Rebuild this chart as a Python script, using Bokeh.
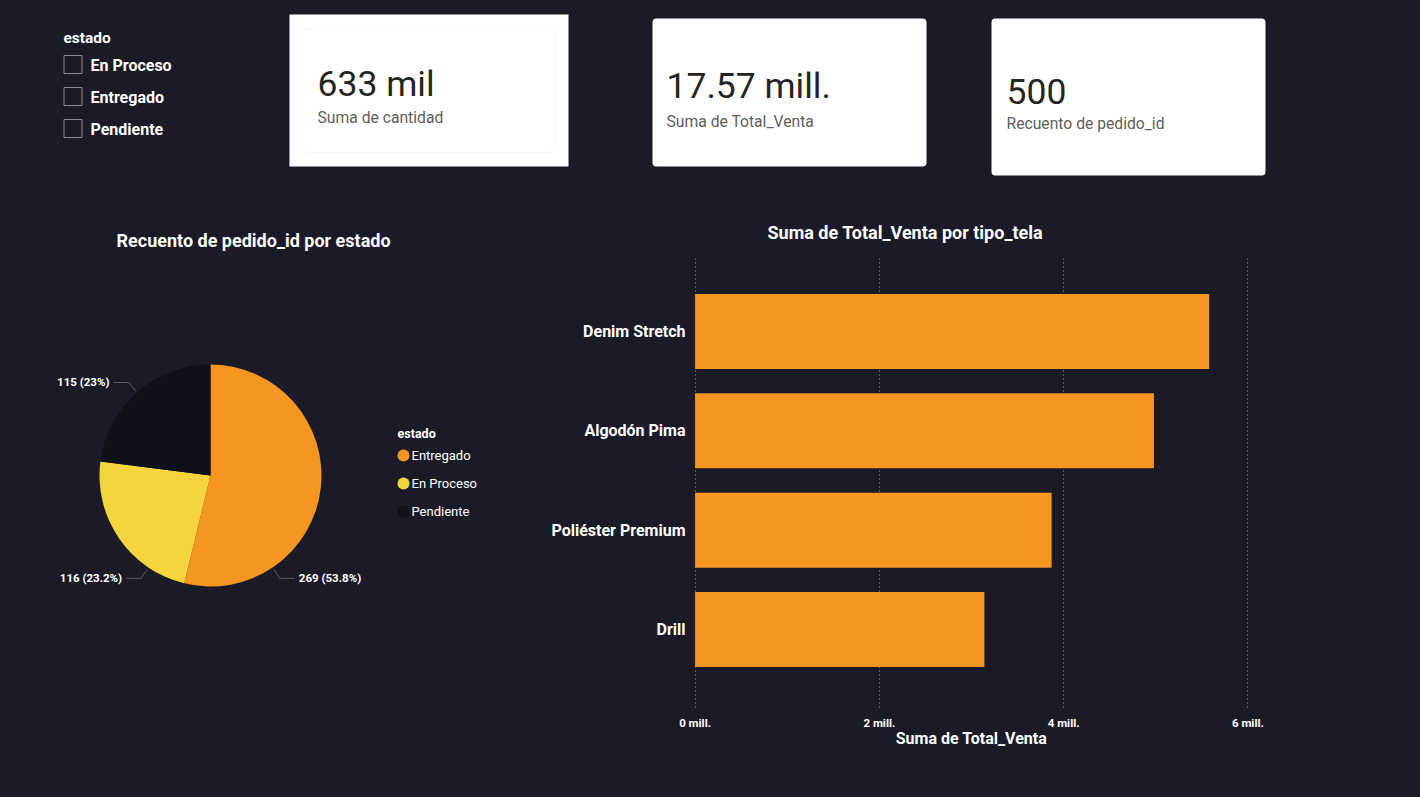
import math

from bokeh.core.properties import value
from bokeh.embed import file_html
from bokeh.layouts import column, row
from bokeh.models import BoxAnnotation, FixedTicker, Range1d
from bokeh.plotting import figure
from bokeh.resources import INLINE

# ---- data -------------------------------------------------------------
estados = ["Entregado", "En Proceso", "Pendiente"]
pedidos_por_estado = [269, 116, 115]

tipos_tela = ["Denim Stretch", "Algodón Pima", "Poliéster Premium", "Drill"]
total_venta_mill = [5.58, 4.98, 3.87, 3.14]
x_ticks_mill = [0, 2, 4, 6]

suma_cantidad = 633_000

# ---- style ------------------------------------------------------------
BG = "#1b1b27"
ORANGE = "#f6951f"
YELLOW = "#f4d53e"
DARK = "#10101a"
estado_colors = [ORANGE, YELLOW, DARK]
FONT = "Roboto"
WHITE = "#ffffff"

# shared borders of the lower row (frame spans page y 258..708)
BORDER_TOP = 68
BORDER_BOTTOM = 89


def canvas(width, height, x_range, y_range, **kw):
    f = figure(width=width, height=height, x_range=x_range, y_range=y_range,
               toolbar_location=None, output_backend="svg",
               x_axis_location=None, y_axis_location=None,
               background_fill_color=BG, border_fill_color=BG,
               outline_line_color=None, **kw)
    f.grid.visible = False
    return f


def style_title(t, offset, standoff):
    t.align = "left"
    t.offset = offset
    t.standoff = standoff
    t.text_font = FONT
    t.text_font_size = "18px"
    t.text_font_style = "bold"
    t.text_color = WHITE


# ---- top strip: slicer + KPI cards ------------------------------------
top = canvas(1420, 190, Range1d(0, 1420), Range1d(190, 0), min_border=0)

top.text(x=[63], y=[37], text=["estado"], text_font=value(FONT),
         text_font_size="15.5px", text_font_style="bold", text_color=WHITE,
         text_baseline="middle")

slicer_items = sorted(estados)
box_top = [55 + 32 * i for i in range(len(slicer_items))]
top.quad(left=63.5, right=81.5, top=box_top, bottom=[t + 18 for t in box_top],
         fill_color=None, line_color="#8a8a8f", line_width=1)
top.text(x=[90] * len(slicer_items), y=[t + 9.5 for t in box_top], text=slicer_items,
         text_font=value(FONT), text_font_size="16px", text_font_style="bold",
         text_color=WHITE, text_baseline="middle")

cards = [
    dict(left=289, right=568, top=14, bottom=166, radius=0),
    dict(left=652, right=926, top=18, bottom=166, radius=4),
    dict(left=991, right=1265, top=18, bottom=175, radius=4),
]
for c in cards:
    top.add_layout(BoxAnnotation(left=c["left"], right=c["right"], top=c["top"],
                                 bottom=c["bottom"], fill_color=WHITE, fill_alpha=1,
                                 line_color=None, border_radius=c["radius"],
                                 level="underlay"))
top.add_layout(BoxAnnotation(left=302, right=554, top=28, bottom=152,
                             fill_color=None, line_color="#e6e6e6", line_width=1,
                             border_radius=6, level="underlay"))

kpi_values = [
    f"{round(suma_cantidad / 1000)} mil",
    f"{sum(total_venta_mill):.2f} mill.",
    f"{sum(pedidos_por_estado)}",
]
kpi_labels = ["Suma de cantidad", "Suma de Total_Venta", "Recuento de pedido_id"]
kpi_x = [317, 666, 1006]
kpi_value_y = [83.5, 85.5, 90.5]
kpi_label_y = [117, 120.5, 122.5]
top.text(x=kpi_x, y=kpi_value_y, text=kpi_values, text_font=value(FONT),
         text_font_size="35.5px", text_color="#252423", text_baseline="middle")
top.text(x=kpi_x, y=kpi_label_y, text=kpi_labels, text_font=value(FONT),
         text_font_size="15.7px", text_color="#605e5c", text_baseline="middle")

# ---- pie: pedidos por estado ------------------------------------------
# frame covers page x 0..540, y 258..708; the pie centre sits at (210, 475)
pie = canvas(540, 607, Range1d(-210, 330), Range1d(-233, 217),
             min_border_left=0, min_border_right=0,
             min_border_top=BORDER_TOP, min_border_bottom=BORDER_BOTTOM,
             title="Recuento de pedido_id por estado")
style_title(pie.title, offset=116, standoff=16)

R = 111
total_pedidos = sum(pedidos_por_estado)

start_cw, end_cw = [], []
acc = 0.0
for v in pedidos_por_estado:
    start_cw.append(acc)
    acc += 360.0 * v / total_pedidos
    end_cw.append(acc)

pie.wedge(x=0, y=0, radius=R,
          start_angle=[math.radians(90 - e) for e in end_cw],
          end_angle=[math.radians(90 - s) for s in start_cw],
          fill_color=estado_colors, line_color=None)

# leader lines and data labels
label_angles = [146.0, 214.0, (start_cw[2] + end_cw[2]) / 2]
lead_xs, lead_ys, lab_x, lab_y, lab_txt, lab_align = [], [], [], [], [], []
for v, a in zip(pedidos_por_estado, label_angles):
    t = math.radians(a)
    sx, sy = (R + 2) * math.sin(t), (R + 2) * math.cos(t)
    ex, ey = (R + 13) * math.sin(t), (R + 13) * math.cos(t)
    side = 1 if math.sin(t) > 0 else -1
    hx = ex + side * 15
    lead_xs.append([sx, ex, hx])
    lead_ys.append([sy, ey, ey])
    pct = f"{100.0 * v / total_pedidos:.1f}".rstrip("0").rstrip(".")
    lab_txt.append(f"{v} ({pct}%)")
    lab_x.append(hx + side * 4)
    lab_y.append(ey)
    lab_align.append("left" if side > 0 else "right")

pie.multi_line(xs=lead_xs, ys=lead_ys, line_color="#5c5c66", line_width=1)
pie.text(x=lab_x, y=lab_y, text=lab_txt, text_align=lab_align,
         text_baseline="middle", text_font=value(FONT), text_font_size="11.5px",
         text_font_style="bold", text_color=WHITE)

# legend
pie.text(x=[187], y=[42], text=["estado"], text_baseline="middle",
         text_font=value(FONT), text_font_size="12.5px", text_font_style="bold",
         text_color=WHITE)
leg_y = [20 - 28 * i for i in range(len(estados))]
pie.scatter(x=[193] * len(estados), y=leg_y, size=12, marker="circle",
            fill_color=estado_colors, line_color=None)
pie.text(x=[201] * len(estados), y=leg_y, text=estados,
         text_baseline="middle", text_font=value(FONT), text_font_size="13px",
         text_color=WHITE)

# ---- bars: total venta por tipo de tela -------------------------------
pos = list(range(len(tipos_tela)))
bar = figure(width=880, height=607, x_range=Range1d(-0.05, 6.05),
             y_range=Range1d(3.794, -0.734), toolbar_location=None,
             output_backend="svg", title="Suma de Total_Venta por tipo_tela",
             min_border_left=150, min_border_right=168,
             min_border_top=BORDER_TOP, min_border_bottom=BORDER_BOTTOM,
             background_fill_color=BG, border_fill_color=BG,
             outline_line_color=None)
style_title(bar.title, offset=77, standoff=32)

bar.hbar(y=pos, left=0, right=total_venta_mill, height=0.755,
         fill_color=ORANGE, line_color=None)

bar.xaxis.ticker = FixedTicker(ticks=x_ticks_mill)
bar.xaxis.major_label_overrides = {t: f"{t} mill." for t in x_ticks_mill}
bar.xaxis.axis_label = "Suma de Total_Venta"
bar.xaxis.axis_line_color = None
bar.xaxis.major_tick_line_color = None
bar.xaxis.minor_tick_line_color = None
bar.xaxis.major_tick_in = 0
bar.xaxis.major_tick_out = 0
bar.xaxis.major_label_standoff = 7
bar.xaxis.major_label_text_font = FONT
bar.xaxis.major_label_text_font_size = "11.5px"
bar.xaxis.major_label_text_font_style = "bold"
bar.xaxis.major_label_text_color = WHITE
bar.xaxis.axis_label_standoff = -4
bar.xaxis.axis_label_text_font = FONT
bar.xaxis.axis_label_text_font_size = "16px"
bar.xaxis.axis_label_text_font_style = "bold"
bar.xaxis.axis_label_text_color = WHITE

bar.yaxis.ticker = FixedTicker(ticks=pos)
bar.yaxis.major_label_overrides = {i: name for i, name in zip(pos, tipos_tela)}
bar.yaxis.axis_line_color = None
bar.yaxis.major_tick_line_color = None
bar.yaxis.minor_tick_line_color = None
bar.yaxis.major_tick_in = 0
bar.yaxis.major_tick_out = 0
bar.yaxis.major_label_standoff = 5
bar.yaxis.major_label_text_font = FONT
bar.yaxis.major_label_text_font_size = "16px"
bar.yaxis.major_label_text_font_style = "bold"
bar.yaxis.major_label_text_color = WHITE

bar.xgrid.ticker = FixedTicker(ticks=x_ticks_mill)
bar.xgrid.grid_line_color = "#a0a0a8"
bar.xgrid.grid_line_dash = "1 3"
bar.xgrid.grid_line_width = 1
bar.ygrid.visible = False

page = column(top, row(pie, bar))
page.styles = {"background-color": BG}

with open("out.html", "w") as fh:
    fh.write(file_html(page, INLINE, title="Dashboard"))
